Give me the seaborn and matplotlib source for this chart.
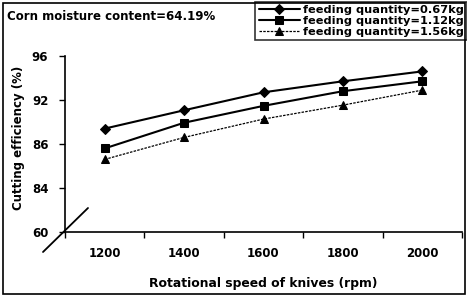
import matplotlib
matplotlib.use("Agg")
import matplotlib.pyplot as plt
from matplotlib.lines import Line2D
from matplotlib.patches import Rectangle
from matplotlib.ticker import FixedLocator
import numpy as np
import pandas as pd
import seaborn as sns

# data
speeds = ["1200", "1400", "1600", "1800", "2000"]
eff_067 = [88.1, 90.6, 92.7, 93.7, 94.6]
eff_112 = [85.8, 88.9, 91.2, 92.8, 93.7]
eff_156 = [85.3, 86.9, 89.4, 91.3, 92.9]
series = ["feeding quantity=0.67kg", "feeding quantity=1.12kg",
          "feeding quantity=1.56kg"]
y_ticks = [60, 84, 86, 92, 96]

df = pd.DataFrame({
    "speed": speeds * 3,
    "eff": eff_067 + eff_112 + eff_156,
    "series": [s for s in series for _ in speeds],
})

sns.set_style("ticks")
plt.rcParams["font.family"] = ["DejaVu Sans"]
plt.rcParams["font.weight"] = "bold"
for key in ["text.color", "axes.labelcolor", "xtick.color", "ytick.color"]:
    plt.rcParams[key] = "black"

fig = plt.figure(figsize=(4.67, 2.96), dpi=100)
ax = fig.add_axes([65 / 467, 1 - 232 / 296, 397 / 467, 176 / 296])

sns.lineplot(data=df, x="speed", y="eff", style="series", sort=False,
             markers={series[0]: "D", series[1]: "s", series[2]: "^"},
             dashes={series[0]: "", series[1]: "", series[2]: (2, 1)},
             color="black", markeredgecolor="black", ax=ax)

# broken y axis: equal spacing between the labelled values
idx = np.arange(len(y_ticks), dtype=float)
ax.set_yscale("function",
              functions=(lambda v: np.interp(v, y_ticks, idx),
                         lambda p: np.interp(p, idx, y_ticks)))
ax.set_ylim(60, 96)
ax.set_yticks(y_ticks)
ax.set_yticklabels([str(t) for t in y_ticks])

ax.set_xlim(-0.5, 4.5)
ax.xaxis.set_minor_locator(FixedLocator(np.arange(-0.5, 4.6, 1.0)))
ax.tick_params(axis="x", which="major", length=0, pad=11, labelsize=8.5)
ax.tick_params(axis="x", which="minor", length=4, width=1, direction="out")
ax.tick_params(axis="y", length=4, width=1, pad=8, labelsize=8.5)

# line widths
lw = [1.5, 1.5, 0.9]
for line, w in zip(ax.lines, lw):
    line.set_linewidth(w)
    line.set_markersize(5.5)

for s in ["top", "right"]:
    ax.spines[s].set_visible(False)
for s in ["left", "bottom"]:
    ax.spines[s].set_linewidth(1.2)
    ax.spines[s].set_color("black")

ax.set_xlabel("Rotational speed of knives (rpm)", fontsize=8.9,
              fontweight="bold", labelpad=12)
ax.set_ylabel("Cutting efficiency (%)", fontsize=8.5, fontweight="bold")
ax.yaxis.set_label_coords(-0.10, 0.534)

handles = ax.lines[:3]
leg = ax.legend(handles, series, loc="upper right",
                bbox_to_anchor=(1.0, 1 - 2 / 296),
                bbox_transform=fig.transFigure, frameon=True, fancybox=False,
                edgecolor="black", fontsize=8.2, handlelength=3.6,
                handletextpad=0.25, borderpad=0.3, labelspacing=0.05,
                borderaxespad=0)
leg.get_frame().set_linewidth(1.2)
for t in leg.get_texts():
    t.set_fontweight("bold")

fig.text(7 / 467, 1 - 16 / 296, "Corn moisture content=64.19%",
         fontsize=8.5, fontweight="bold", va="center", ha="left")

# axis break mark and figure border
fig.add_artist(Line2D([43 / 467, 88 / 467], [1 - 252 / 296, 1 - 208 / 296],
                      color="black", lw=1.3, transform=fig.transFigure))
fig.add_artist(Rectangle((3 / 467, 2 / 296), 462 / 467, 291 / 296,
                         fill=False, edgecolor="black", lw=1.2,
                         transform=fig.transFigure))

fig.savefig("out.png", dpi=100)
